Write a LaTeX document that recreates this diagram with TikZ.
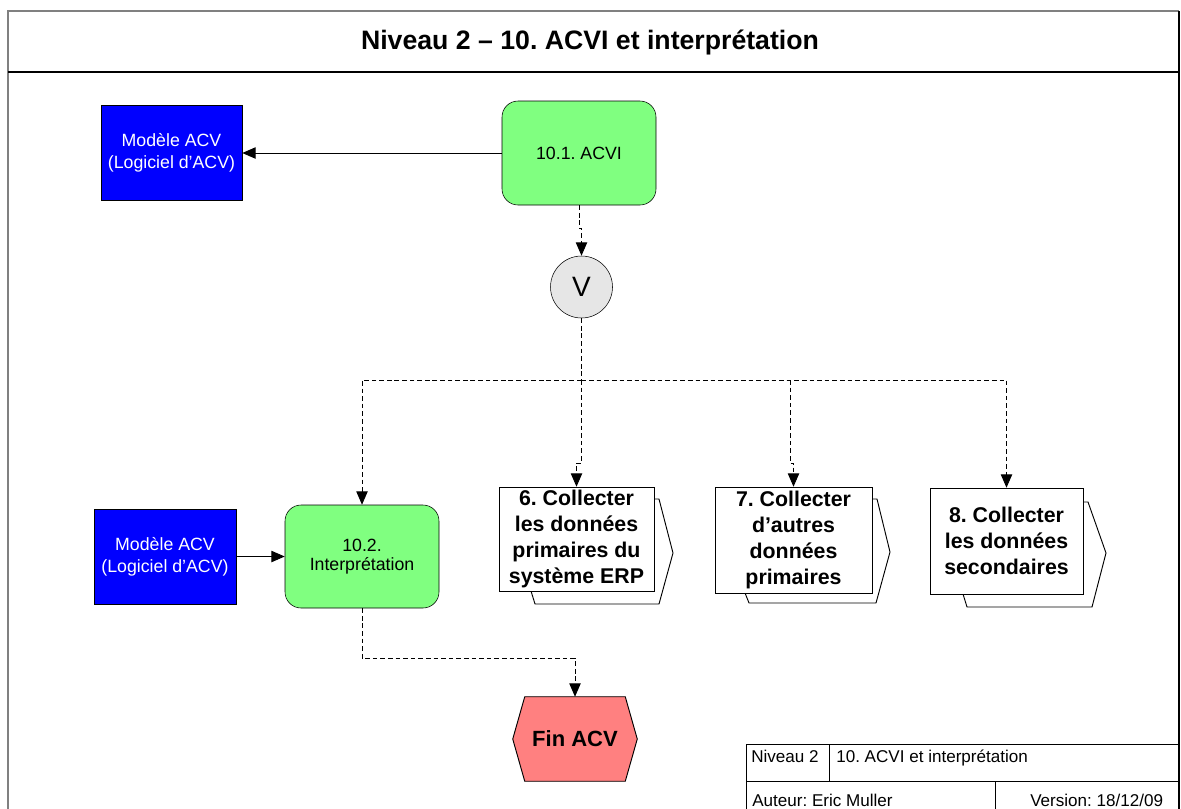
\documentclass[tikz,border=0pt]{standalone}
\usepackage{fontspec}
\setmainfont{Liberation Sans}
\usetikzlibrary{arrows.meta,backgrounds}
\definecolor{actgreen}{HTML}{80FF80}
\definecolor{modblue}{HTML}{0000FF}
\definecolor{endred}{HTML}{FF8080}
\definecolor{opgray}{HTML}{E6E6E6}
\definecolor{framegray}{HTML}{808080}
\frenchspacing
\begin{document}
\begin{tikzpicture}[x=0.75pt,y=-0.75pt,
  model/.style={draw=black, fill=modblue, text=white, align=center, inner sep=0pt,
    font=\fontsize{13.3}{16.5}\selectfont},
  act/.style={draw=black, fill=actgreen, rounded corners=12pt, align=center, inner sep=0pt,
    font=\fontsize{13.3}{14}\selectfont},
  procbox/.style={draw=black, fill=white, align=center, inner sep=0pt,
    font=\bfseries\fontsize{16}{19.5}\selectfont},
  oper/.style={circle, draw=black, fill=opgray, inner sep=0pt, minimum size=62*0.75pt,
    font=\fontsize{21}{24}\selectfont},
  plain/.style={line width=0.7pt},
  dashline/.style={plain, dash pattern=on 3.5pt off 2.2pt},
  flow/.style={plain, -{Triangle[length=10pt,width=8.5pt]}},
  dflow/.style={dashline, -{Triangle[length=10pt,width=8.5pt]}},
  cell/.style={anchor=base west, inner sep=0pt, font=\fontsize{12.8}{14}\selectfont}
]
\useasboundingbox (0,0) rectangle (1181,808);
\clip (0,0) rectangle (1181,808);

% sheet frame and title band
\draw[framegray, line width=0.9pt] (8,830) -- (8,11) -- (1179,11);
\draw[black, line width=0.9pt] (1179,11) -- (1179,830);
\draw[black, line width=0.8pt] (8,72) -- (1179,72);
\node[font=\bfseries\fontsize{20}{22}\selectfont] (title) at (590,42)
  {Niveau 2 – 10. ACVI et interprétation};

% activities
\node[act, minimum width=154*0.75pt, minimum height=104*0.75pt] (a1) at (579,153) {10.1. ACVI};
\node[act, minimum width=154*0.75pt, minimum height=103*0.75pt] (a2) at (362,556.5) {10.2.\\Interprétation};

% model resources
\node[model, minimum width=141*0.75pt, minimum height=95*0.75pt] (m1) at (171.5,152.5)
  {Modèle ACV\\(Logiciel d’ACV)};
\node[model, minimum width=142*0.75pt, minimum height=95*0.75pt] (m2) at (165,556.5)
  {Modèle ACV\\(Logiciel d’ACV)};

% operator
\node[oper] (v) at (581.5,287) {V};

% process interfaces: back outline, then front box
\draw[plain] (654,499) -- (659,499) -- (673,553) -- (659,604) -- (535,604) -- (531,591);
\node[procbox, minimum width=155*0.75pt, minimum height=104*0.75pt] (p6) at (576.5,539)
  {6. Collecter\\les données\\primaires du\\système ERP};
\draw[plain] (872,499) -- (877,499) -- (890,552) -- (876,603) -- (749,603) -- (745,593);
\node[procbox, minimum width=157*0.75pt, minimum height=106*0.75pt] (p7) at (793.5,540)
  {7. Collecter\\d’autres\\données\\primaires};
\draw[plain] (1083,502) -- (1088,502) -- (1106,553) -- (1092,607) -- (967,607) -- (963,594);
\node[procbox, minimum width=153*0.75pt, minimum height=106*0.75pt] (p8) at (1006.5,541)
  {8. Collecter\\les données\\secondaires};

% end event: hexagon behind its label
\node[inner sep=0pt, minimum width=124*0.75pt, minimum height=84*0.75pt,
  font=\bfseries\fontsize{16.5}{18}\selectfont] (fin) at (575,739) {Fin ACV};
\begin{scope}[on background layer]
\filldraw[plain, fill=endred] (fin.west) -- ([xshift=12*0.75pt]fin.north west)
  -- ([xshift=-12*0.75pt]fin.north east) -- (fin.east)
  -- ([xshift=-12*0.75pt]fin.south east) -- ([xshift=12*0.75pt]fin.south west) -- cycle;
\end{scope}

% connectors
\draw[flow] (a1.west) -- (a1.west -| m1.east);
\draw[flow] (m2.east) -- (m2.east -| a2.west);
\draw[dflow] (a1.south) -- ++(0,23) -| (v.north);
\coordinate (j) at (581.5,380);
\coordinate (k) at (790,380);
\draw[dashline] (v.south) -- (j);
\draw[dflow] (j) -| (a2.north);
\draw[dflow] (j) -- (581.5,463) -| (p6.north);
\draw[dashline] (j) -- (k);
\draw[dflow] (k) -- (790,463) -| (p7.north);
\draw[dflow] (j) -| (p8.north);
\draw[dflow] (a2.south) -- ++(0,50) -| (fin.north);

% title block
\draw[plain] (746,830) -- (746,744) -- (1179,744);
\draw[plain] (746,781) -- (1179,781);
\draw[plain] (829,744) -- (829,781);
\draw[plain] (995,781) -- (995,830);
\node[cell] (c1) at (751,762) {Niveau 2};
\node[cell] (c2) at (836,762) {10. ACVI et interprétation};
\node[cell] (c3) at (752,806) {Auteur: Eric Muller};
\node[cell] (c4) at (1030,806) {Version: 18/12/09};
\end{tikzpicture}
\end{document}
